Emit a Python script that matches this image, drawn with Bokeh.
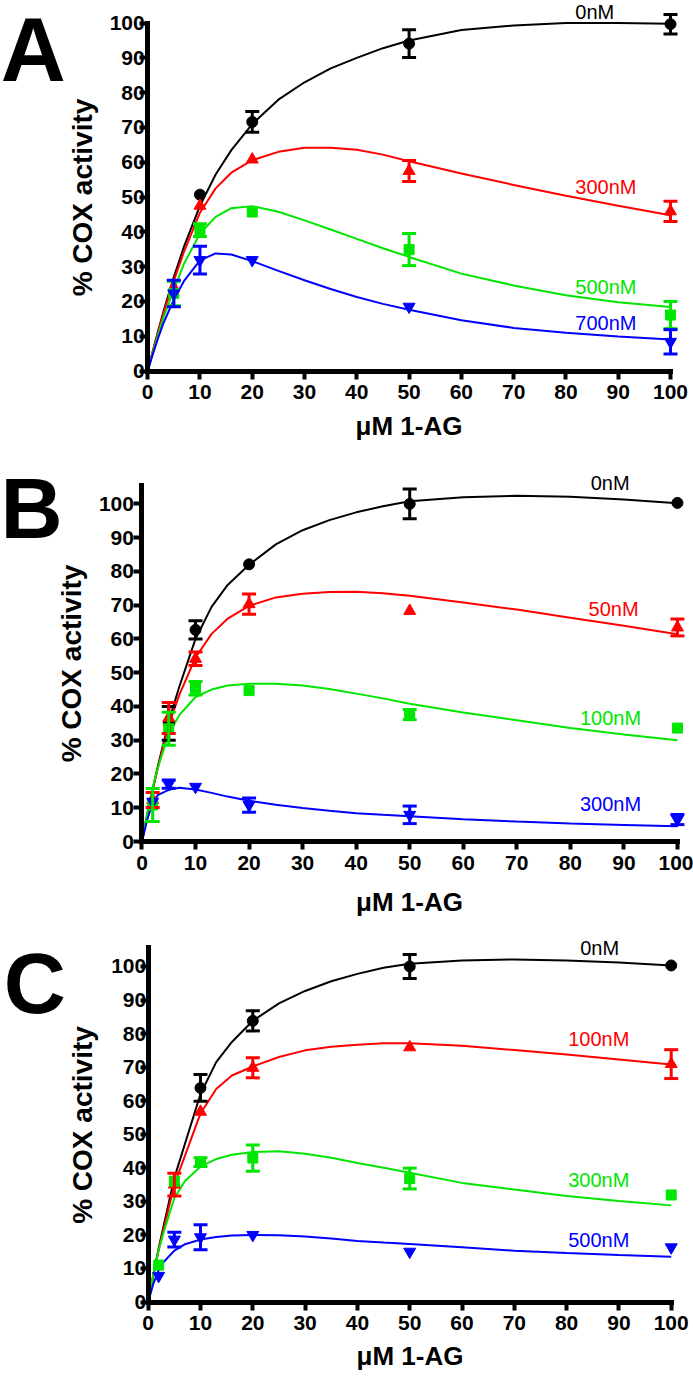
from bokeh.plotting import figure
from bokeh.models import Range1d, FixedTicker, Label, Whisker, TeeHead, ColumnDataSource
from bokeh.layouts import column
from bokeh.embed import file_html
from bokeh.resources import INLINE

FONT = "Liberation Sans"
TICKS = [0, 10, 20, 30, 40, 50, 60, 70, 80, 90, 100]
X_TITLE = "μM 1-AG"
Y_TITLE = "% COX activity"

CURVE_X = [0, 1, 2, 3, 5, 7, 10, 13, 16, 20, 25, 30, 35, 40, 45, 50, 60, 70, 80, 90, 100]

# ---------------- Panel A ----------------
A_x_0 = [10, 20, 50, 100]
A_y_0 = [50.7, 71.6, 94.1, 99.7]
A_e_0 = [0, 3.0, 4.0, 2.8]
A_c_0 = [0, 5.8, 11.5, 17, 27, 36, 47.5, 56.5, 63.5, 71, 78, 83, 87, 90, 92.8, 95, 98, 99.3, 100, 100, 99.8]

A_x_300 = [5, 10, 20, 50, 100]
A_y_300 = [24.0, 47.5, 60.8, 57.5, 45.9]
A_e_300 = [0, 0, 0, 3.0, 2.9]
A_c_300 = [0, 5.7, 11.2, 16.5, 26, 34.5, 45.5, 52.5, 57, 60.6, 63, 64.2, 64.2, 63.6, 62.2, 60.3, 56.8, 53.5, 50.4, 47.5, 44.8]

A_x_500 = [5, 10, 20, 50, 100]
A_y_500 = [22.3, 40.5, 45.7, 34.9, 16.1]
A_e_500 = [3.5, 1.8, 0, 4.6, 3.9]
A_c_500 = [0, 5.3, 10.4, 15.3, 23.5, 31, 39.5, 44.3, 46.8, 47.4, 45.8, 43.3, 40.7, 38, 35.3, 32.8, 28, 24.6, 21.8, 19.8, 18.4]

A_x_700 = [5, 10, 20, 50, 100]
A_y_700 = [22.3, 31.9, 31.9, 18.5, 8.4]
A_e_700 = [3.8, 4.0, 0, 0, 3.5]
A_c_700 = [0, 4.9, 9.5, 13.7, 20.5, 26, 31.8, 33.8, 33.5, 31.6, 28.8, 26.1, 23.6, 21.3, 19.3, 17.6, 14.6, 12.4, 11, 9.9, 9.1]

A_labels = ["0nM", "300nM", "500nM", "700nM"]
A_label_x = [81.8, 81.8, 81.8, 81.8]
A_label_y = [103.3, 52.9, 24.2, 13.9]

# ---------------- Panel B ----------------
B_x_0 = [5, 10, 20, 50, 100]
B_y_0 = [35.0, 62.7, 82.1, 100.0, 100.3]
B_e_0 = [5.0, 2.7, 0, 4.4, 0]
B_c_0 = [0, 8, 15.5, 22.5, 35.5, 46, 60, 69.5, 76, 82, 88, 92.2, 95.2, 97.5, 99.3, 100.8, 102, 102.4, 102.1, 101.3, 100.2]

B_x_50 = [2, 5, 10, 20, 50, 100]
B_y_50 = [12.3, 36.6, 54.1, 70.3, 68.3, 63.4]
B_e_50 = [2.2, 4.6, 2.0, 3.0, 0, 2.5]
B_c_50 = [0, 8, 15.3, 22, 34.5, 43.5, 54.5, 61.5, 66, 69.8, 72.3, 73.4, 73.9, 74, 73.5, 72.8, 70.8, 68.7, 66.3, 63.9, 61.4]

B_x_100 = [2, 5, 10, 20, 50, 100]
B_y_100 = [10.8, 33.4, 45.4, 44.7, 37.6, 33.6]
B_e_100 = [4.9, 4.9, 2.0, 0, 1.5, 0]
B_c_100 = [0, 8.5, 16, 22, 32, 37.5, 42.8, 45, 46.2, 46.7, 46.7, 46.2, 45.2, 43.8, 42.4, 40.8, 38.2, 35.9, 33.6, 31.7, 30]

B_x_300 = [2, 5, 10, 20, 50, 100]
B_y_300 = [11.8, 17.0, 16.2, 10.8, 7.9, 6.5]
B_e_300 = [0, 1.2, 0, 2.1, 2.6, 1.5]
B_c_300 = [0, 6.5, 11.6, 13.8, 15.3, 15.9, 15.4, 14.4, 13.3, 12.1, 10.9, 9.9, 9.1, 8.4, 7.9, 7.5, 6.6, 5.9, 5.3, 4.9, 4.5]

B_labels = ["0nM", "50nM", "100nM", "300nM"]
B_label_x = [83.8, 83.4, 81.8, 81.8]
B_label_y = [106.3, 68.8, 36.6, 11.0]

# ---------------- Panel C ----------------
C_x_0 = [10, 20, 50, 100]
C_y_0 = [63.8, 83.8, 100.0, 100.3]
C_e_0 = [4.0, 3.0, 3.6, 0]
C_c_0 = [0, 8.2, 16, 23, 37, 47, 62, 71.5, 77.5, 83.8, 89, 92.7, 95.6, 97.8, 99.6, 100.8, 101.8, 102.1, 101.8, 101.2, 100.3]

C_x_100 = [5, 10, 20, 50, 100]
C_y_100 = [35.0, 56.7, 69.8, 75.9, 70.9]
C_e_100 = [3.4, 0, 3.0, 0, 4.3]
C_c_100 = [0, 8, 15.5, 22, 35, 43.5, 56.2, 63.5, 67.5, 70.2, 73, 75, 76.1, 76.7, 77.1, 77.1, 76.4, 75.1, 73.8, 72.3, 70.8]

C_x_300 = [2, 5, 10, 20, 50, 100]
C_y_300 = [11.0, 36.0, 41.7, 42.9, 36.8, 31.9]
C_e_300 = [0, 0, 1.3, 3.9, 3.1, 0]
C_c_300 = [0, 8.5, 15.5, 21, 31, 36, 40.4, 42.6, 43.9, 44.7, 44.9, 44.2, 43, 41.4, 40, 38.5, 35.5, 33.5, 31.6, 30.1, 28.8]

C_x_500 = [2, 5, 10, 20, 50, 100]
C_y_500 = [7.8, 18.6, 19.3, 20.0, 15.0, 16.3]
C_e_500 = [0, 2.2, 3.7, 0, 0, 0]
C_c_500 = [0, 5.5, 9.5, 12, 15.3, 17.2, 18.6, 19.4, 19.8, 20, 19.9, 19.5, 18.9, 18.2, 17.7, 17.3, 16.3, 15.3, 14.6, 14, 13.5]

C_labels = ["0nM", "100nM", "300nM", "500nM"]
C_label_x = [82.6, 80.3, 80.3, 80.3]
C_label_y = [105.5, 78.4, 36.5, 18.5]

COLORS = ["#000000", "#ff0000", "#00e600", "#0000ff"]
MARKERS = ["circle", "triangle", "square", "inverted_triangle"]
SIZES = [11, 12, 10, 12]


def make_panel(letter, letter_x, letter_y, letter_size, height, x_range, y_range, y_bound,
               ytick_standoff, ytitle_standoff, xtitle_standoff,
               series, labels, label_x, label_y):
    p = figure(width=693, height=height, x_range=Range1d(*x_range), y_range=Range1d(*y_range),
               output_backend="svg", toolbar_location=None,
               min_border_left=0, min_border_right=0, min_border_top=0, min_border_bottom=0)
    p.xgrid.visible = False
    p.ygrid.visible = False
    p.outline_line_color = None
    p.background_fill_color = "white"
    p.border_fill_color = "white"

    for ax in (p.xaxis[0], p.yaxis[0]):
        ax.fixed_location = 0
        ax.ticker = FixedTicker(ticks=TICKS)
        ax.axis_line_width = 5
        ax.axis_line_color = "black"
        ax.axis_line_cap = "square"
        ax.major_tick_line_width = 4
        ax.major_tick_line_color = "black"
        ax.major_tick_out = 8
        ax.major_tick_in = 0
        ax.minor_tick_line_color = None
        ax.major_label_text_font = FONT
        ax.major_label_text_font_style = "bold"
        ax.major_label_text_font_size = "21px"
        ax.major_label_text_color = "black"
        ax.axis_label_text_font = FONT
        ax.axis_label_text_font_style = "bold"
        ax.axis_label_text_color = "black"
    p.xaxis[0].bounds = (0, 100)
    p.yaxis[0].bounds = (0, y_bound)
    p.xaxis[0].major_label_standoff = 6
    p.yaxis[0].major_label_standoff = ytick_standoff
    p.xaxis[0].axis_label = X_TITLE
    p.yaxis[0].axis_label = Y_TITLE
    p.xaxis[0].axis_label_text_font_size = "26px"
    p.yaxis[0].axis_label_text_font_size = "28px"
    p.xaxis[0].axis_label_standoff = xtitle_standoff
    p.yaxis[0].axis_label_standoff = ytitle_standoff

    for i, (px, py, pe, pc) in enumerate(series):
        p.line(CURVE_X, pc, line_color=COLORS[i], line_width=2)
    for i, (px, py, pe, pc) in enumerate(series):
        wx = [x for x, e in zip(px, pe) if e > 0]
        wu = [y + e for y, e in zip(py, pe) if e > 0]
        wl = [y - e for y, e in zip(py, pe) if e > 0]
        if wx:
            src = ColumnDataSource(dict(x=wx, upper=wu, lower=wl))
            w = Whisker(source=src, base="x", upper="upper", lower="lower", dimension="height",
                        line_color=COLORS[i], line_width=3,
                        upper_head=TeeHead(size=14, line_color=COLORS[i], line_width=3),
                        lower_head=TeeHead(size=14, line_color=COLORS[i], line_width=3))
            w.level = "glyph"
            p.add_layout(w)
        p.scatter(px, py, marker=MARKERS[i], size=SIZES[i], fill_color=COLORS[i],
                  line_color=COLORS[i])

    for i, t in enumerate(labels):
        p.add_layout(Label(x=label_x[i], y=label_y[i], text=t, text_color=COLORS[i],
                           text_font=FONT, text_font_size="20px",
                           text_align="left", text_baseline="middle"))

    p.add_layout(Label(x=letter_x, y=letter_y, text=letter, text_color="black",
                       text_font=FONT, text_font_size=letter_size, text_font_style="bold",
                       text_align="left", text_baseline="middle"))
    return p


pA = make_panel("A", -28.1, 92.2, "90px", 445, (-28.15, 104.4), (-21.4, 106.5), 100,
                -5, 8, 8,
                [(A_x_0, A_y_0, A_e_0, A_c_0), (A_x_300, A_y_300, A_e_300, A_c_300),
                 (A_x_500, A_y_500, A_e_500, A_c_500), (A_x_700, A_y_700, A_e_700, A_c_700)],
                A_labels, A_label_x, A_label_y)
pB = make_panel("B", -26.4, 98.8, "86px", 475, (-26.42, 103.0), (-23.4, 117.3), 105.4,
                0, 8, 14,
                [(B_x_0, B_y_0, B_e_0, B_c_0), (B_x_50, B_y_50, B_e_50, B_c_50),
                 (B_x_100, B_y_100, B_e_100, B_c_100), (B_x_300, B_y_300, B_e_300, B_c_300)],
                B_labels, B_label_x, B_label_y)
pC = make_panel("C", -27.6, 95.2, "86px", 456, (-28.24, 104.26), (-22.2, 113.7), 105.75,
                -6, 10, 7,
                [(C_x_0, C_y_0, C_e_0, C_c_0), (C_x_100, C_y_100, C_e_100, C_c_100),
                 (C_x_300, C_y_300, C_e_300, C_c_300), (C_x_500, C_y_500, C_e_500, C_c_500)],
                C_labels, C_label_x, C_label_y)

layout = column(pA, pB, pC, spacing=0)
open("out.html", "w").write(file_html(layout, INLINE))
